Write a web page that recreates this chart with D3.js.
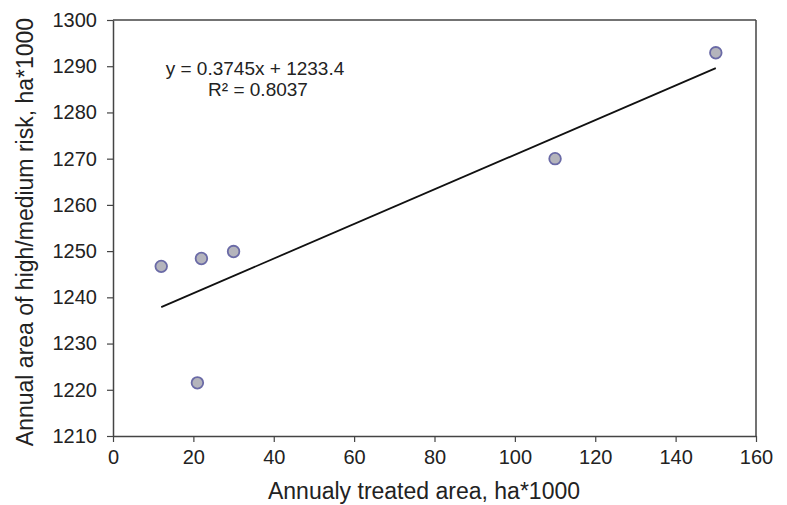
<!DOCTYPE html>
<html><head><meta charset="utf-8">
<script src="https://cdn.jsdelivr.net/npm/d3@7"></script>
<style>body{margin:0;background:#fff}svg{display:block}text{font-family:"Liberation Sans",Arial,sans-serif;fill:#222}</style>
</head><body><svg id="c" width="787" height="505"></svg>
<script>
const xValues = [12, 21, 22, 30, 110, 150];
const yValues = [1246.7, 1221.5, 1248.4, 1249.9, 1270.0, 1292.9];
const xTicks = [0, 20, 40, 60, 80, 100, 120, 140, 160];
const yTicks = [1210, 1220, 1230, 1240, 1250, 1260, 1270, 1280, 1290, 1300];
const slope = 0.3745, intercept = 1233.4, r2 = "0.8037";
const xTitle = "Annualy treated area, ha*1000";
const yTitle = "Annual area of high/medium risk, ha*1000";

const svg = d3.select("#c");
const L = 113, R = 756, T = 20, B = 436;
const x = d3.scaleLinear().domain([0, 160]).range([L, R]);
const y = d3.scaleLinear().domain([1210, 1300]).range([B, T]);

// frame top/right
svg.append("line").attr("x1", L).attr("x2", R).attr("y1", T).attr("y2", T).attr("stroke", "#444").attr("stroke-width", 1.5);
svg.append("line").attr("x1", R).attr("x2", R).attr("y1", T).attr("y2", B).attr("stroke", "#444").attr("stroke-width", 1.5);

const xa = svg.append("g").attr("transform", `translate(0,${B})`)
  .call(d3.axisBottom(x).tickValues(xTicks).tickSize(6).tickPadding(6).tickSizeOuter(0));
const ya = svg.append("g").attr("transform", `translate(${L},0)`)
  .call(d3.axisLeft(y).tickValues(yTicks).tickSize(6).tickPadding(10).tickSizeOuter(0).tickFormat(d3.format("d")));
[xa, ya].forEach(g => {
  g.select(".domain").attr("stroke", "#444").attr("stroke-width", 1.5);
  g.selectAll(".tick line").attr("stroke", "#444").attr("stroke-width", 1.2);
  g.selectAll("text").style("font-size", "20px").attr("fill", "#222");
});
xa.selectAll("text").attr("dy", "0.8em");

// trend line
const x0 = d3.min(xValues), x1 = d3.max(xValues);
svg.append("line")
  .attr("x1", x(x0)).attr("y1", y(slope * x0 + intercept))
  .attr("x2", x(x1)).attr("y2", y(slope * x1 + intercept))
  .attr("stroke", "#111").attr("stroke-width", 1.8);

// points
svg.selectAll("circle.pt").data(xValues.map((v, i) => [v, yValues[i]])).join("circle")
  .attr("class", "pt")
  .attr("cx", d => x(d[0])).attr("cy", d => y(d[1])).attr("r", 5.8)
  .attr("fill", "#b4b4bc").attr("stroke", "#6a6aa6").attr("stroke-width", 1.8);

// equation
const eq = svg.append("text").attr("text-anchor", "middle").style("font-size", "19px");
eq.append("tspan").attr("x", 255).attr("y", 75).text(`y = ${slope}x + ${intercept}`);
eq.append("tspan").attr("x", 258).attr("y", 96).text(`R² = ${r2}`);

// titles
svg.append("text").attr("x", 424).attr("y", 499).attr("text-anchor", "middle").style("font-size", "23px").text(xTitle);
svg.append("text").attr("transform", "translate(33,232) rotate(-90)").attr("text-anchor", "middle").style("font-size", "23px").text(yTitle);
</script></body></html>
